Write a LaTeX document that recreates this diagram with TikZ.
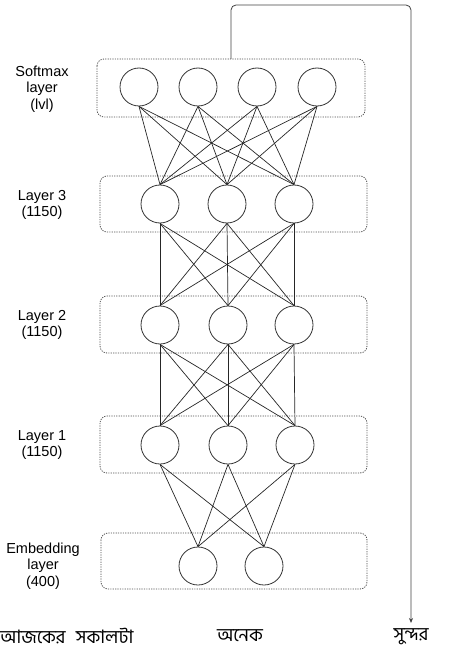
\documentclass[tikz,border=0pt]{standalone}
\usepackage{fontspec}
\setmainfont{Liberation Sans}
\newfontfamily\bnfont[Script=Bengali]{Hind Siliguri}
\usetikzlibrary{arrows.meta}
\begin{document}
\begin{tikzpicture}[x=1pt,y=-1pt,
  neuron/.style={circle,draw=black!80,line width=0.8pt,minimum size=38pt,inner sep=0pt},
  layerbox/.style={draw=black!70,line width=0.8pt,dash pattern=on 1.2pt off 1.2pt,rounded corners=7pt},
  conn/.style={draw=black!85,line width=0.7pt},
  lbl/.style={align=center,font=\fontsize{14.5}{16.5}\selectfont},
  word/.style={font=\bnfont\fontsize{18.5}{20}\selectfont,inner sep=0pt}]
\useasboundingbox (0,0) rectangle (474,671);
% boxes
\draw[layerbox] (97,59) rectangle (365,117);
\draw[layerbox] (100,176) rectangle (367,232);
\draw[layerbox] (100,296) rectangle (367,353);
\draw[layerbox] (100,416) rectangle (367,473);
\draw[layerbox] (101,533) rectangle (367,589);
\coordinate (boxtop) at (231,59);
% neurons
\foreach \i/\x in {1/139,2/198,3/257,4/317} \node[neuron] (s\i) at (\x,87) {};
\foreach \i/\x in {1/160,2/227,3/294} \node[neuron] (c\i) at (\x,204) {};
\foreach \i/\x in {1/160,2/228,3/294} \node[neuron] (b\i) at (\x,325) {};
\foreach \i/\x in {1/160,2/228,3/295} \node[neuron] (a\i) at (\x,445) {};
\foreach \i/\x in {1/198,2/264} \node[neuron] (e\i) at (\x,566) {};
% connections
\foreach \i in {1,2,3,4} \foreach \j in {1,2,3} \draw[conn] (s\i.south) -- (c\j.north);
\foreach \i in {1,2,3} \foreach \j in {1,2,3} \draw[conn] (c\i.south) -- (b\j.north);
\foreach \i in {1,2,3} \foreach \j in {1,2,3} \draw[conn] (b\i.south) -- (a\j.north);
\foreach \i in {1,2,3} \foreach \j in {1,2} \draw[conn] (a\i.south) -- (e\j.north);
% labels
\node[lbl] (ls) at (42,89) {Softmax\\layer\\(lvl)};
\node[lbl] (l3) at (42,205) {Layer 3\\(1150)};
\node[lbl] (l2) at (42,325) {Layer 2\\(1150)};
\node[lbl] (l1) at (42,445) {Layer 1\\(1150)};
\node[lbl] (le) at (43,566) {Embedding\\layer\\(400)};
% words
\node[word,anchor=west] (w1) at (0,636) {আজকের\hspace{0.55em}সকালটা};
\node[word] (w2) at (240,636) {অনেক};
\node[word] (w3) at (411,637) {সুন্দর};
% output arrow
\draw[line width=0.8pt,draw=black!75,rounded corners=5pt,-{Stealth[length=5pt,width=4pt]}]
  (boxtop) -- (231,5) -- (411,5) -- (411,623);
\end{tikzpicture}
\end{document}
